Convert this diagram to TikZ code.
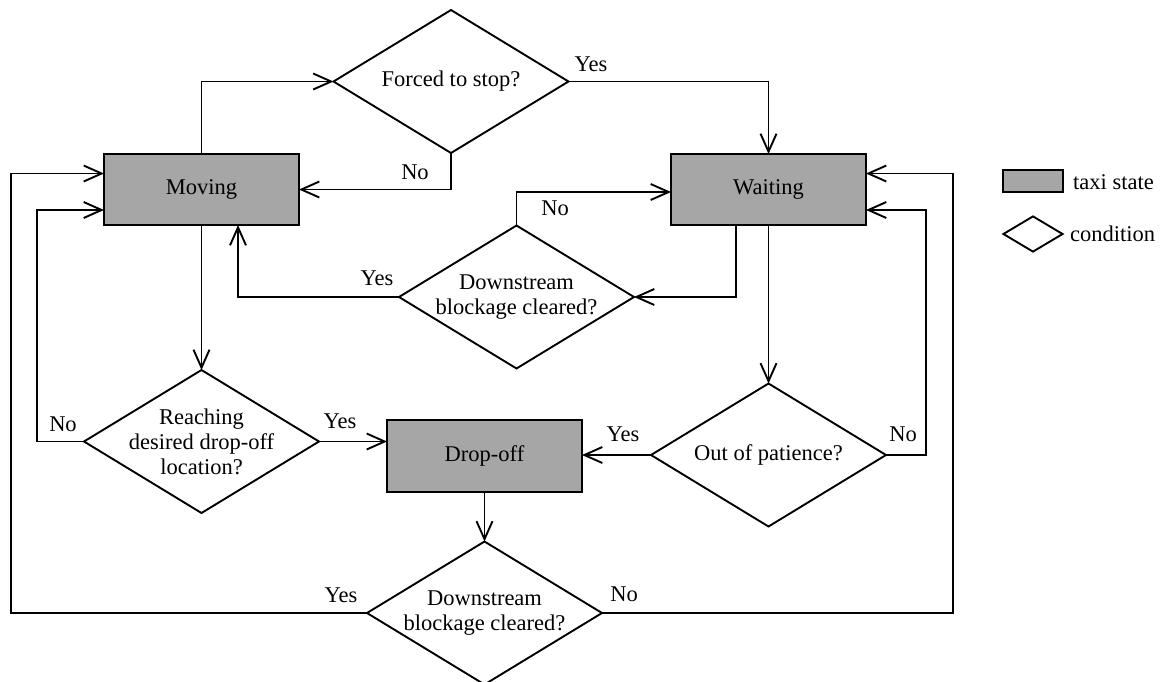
\documentclass[tikz,border=0pt]{standalone}
\usepackage{fontspec}
\setmainfont{Liberation Serif}
\usetikzlibrary{shapes.geometric,arrows.meta,calc}
\definecolor{stategray}{RGB}{166,166,166}
\begin{document}
\begin{tikzpicture}[x=1pt,y=-1pt,
  every node/.style={font=\fontsize{22.5}{25}\selectfont},
  statebox/.style={draw, line width=2.2pt, fill=stategray, rectangle, minimum width=195pt, minimum height=71pt, inner sep=0pt, outer sep=0pt},
  cond/.style={draw, line width=1.9pt, diamond, minimum width=235pt, minimum height=143pt, inner sep=0pt, outer sep=0pt},
  condtext/.style={label={[align=center, font=\fontsize{22.5}{25}\selectfont]center:#1}},
  arr/.style={draw, line width=1.9pt, -{Straight Barb[length=18pt,width=16pt,line width=1.9pt]}},
  lbl/.style={inner sep=0pt}
]
\useasboundingbox (0,0) rectangle (1160,681);

% states
\node[statebox] (M) at (201.5,189.5) {Moving};
\node[statebox] (W) at (768.5,189.5) {Waiting};
\node[statebox, minimum height=72pt] (D) at (484.5,456) {Drop-off};

% conditions
\node[cond, condtext={Forced to stop?}] (F) at (451,81.5) {};
\node[cond, condtext={Downstream\\blockage cleared?}] (D1) at (516.5,297) {};
\node[cond, condtext={Reaching\\desired drop-off\\location?}] (R) at (201.5,441.5) {};
\node[cond, condtext={Out of patience?}] (O) at (768.5,455) {};
\node[cond, condtext={Downstream\\blockage cleared?}] (B) at (484.5,613) {};

% connectors
\draw[arr] (M.north) |- (F.west);
\draw[arr] (F.south) |- (M.east);
\draw[arr] (F.east) -| (W.north);
\draw[arr] (M.south) -- (R.north);
\draw[arr] (R.west) -| ([xshift=-67pt,yshift=-20.5pt]M.west) -- ([yshift=-20.5pt]M.west);
\draw[arr] (R.east) -- (R.east -| D.west);
\draw[arr] (W.south) -- (O.north);
\draw[arr] ([xshift=-32.5pt]W.south) |- (D1.east);
\draw[arr] (D1.west) -| ([xshift=36.5pt]M.south);
\draw[arr] (D1.north) |- ([yshift=-2.5pt]W.west);
\draw[arr] (O.west) -- (O.west -| D.east);
\draw[arr] (O.east) -| ([xshift=60pt,yshift=-20.5pt]W.east) -- ([yshift=-20.5pt]W.east);
\draw[arr] (D.south) -- (B.north);
\draw[arr] (B.west) -| ([xshift=-93pt,yshift=16pt]M.west) -- ([yshift=16pt]M.west);
\draw[arr] (B.east) -| ([xshift=87pt,yshift=16pt]W.east) -- ([yshift=16pt]W.east);

% branch labels
\node[lbl] (l1) at (591,64) {Yes};
\node[lbl] (l2) at (415,172) {No};
\node[lbl] (l3) at (555,208) {No};
\node[lbl] (l4) at (377,278) {Yes};
\node[lbl] (l5) at (63,424) {No};
\node[lbl] (l6) at (340,421) {Yes};
\node[lbl] (l7) at (623,434) {Yes};
\node[lbl] (l8) at (903,434) {No};
\node[lbl] (l9) at (341,595) {Yes};
\node[lbl] (l10) at (624,594) {No};

% legend
\node[draw, line width=2.2pt, fill=stategray, minimum width=60pt, minimum height=22pt, inner sep=0pt] (lg1) at (1033,181) {};
\node[anchor=west, inner sep=0pt] (lt1) at (1073,182) {taxi state};
\node[draw, line width=1.9pt, diamond, minimum width=60pt, minimum height=36pt, inner sep=0pt] (lg2) at (1033,234) {};
\node[anchor=west, inner sep=0pt] (lt2) at (1070,234) {condition};
\end{tikzpicture}
\end{document}
